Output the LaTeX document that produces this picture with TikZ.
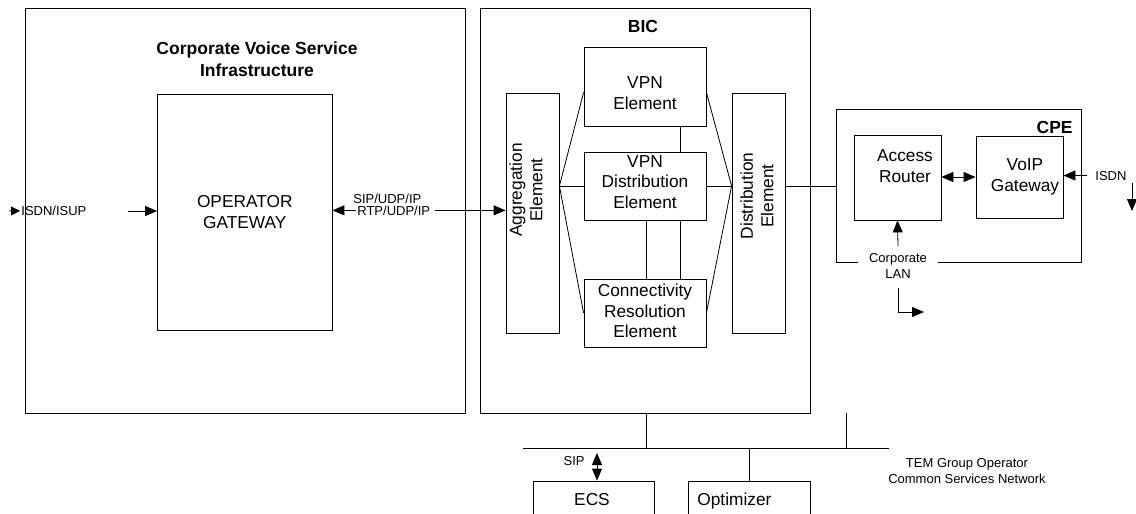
\documentclass[tikz,border=0pt]{standalone}
\usepackage{fontspec}
\setmainfont{Liberation Sans}
\usetikzlibrary{arrows.meta}
\begin{document}
\begin{tikzpicture}[x=1pt,y=-1pt,line width=0.8pt,
  box/.style={draw,inner sep=0pt},
  big/.style={font=\fontsize{17.3}{20.5}\selectfont,align=center,inner sep=0pt},
  small/.style={font=\fontsize{13}{15.5}\selectfont,align=center,inner sep=0pt},
  heading/.style={font=\bfseries\fontsize{17.5}{21.5}\selectfont,align=center,inner sep=0pt},
  tip/.style={-{Triangle[length=12pt,width=10pt]}},
  tips/.style={{Triangle[length=12pt,width=10pt]}-{Triangle[length=12pt,width=10pt]}}]
\useasboundingbox (0,0) rectangle (1136,514);
\clip (0,0) rectangle (1136,514);

% --- corporate voice service infrastructure ---
\node[box,minimum width=439.5,minimum height=405] (cvsi) at (245.25,210.5) {};
\node[heading] (cvsit) at (257,59) {Corporate Voice Service\\Infrastructure};
\node[box,big,minimum width=174.5,minimum height=236] (op) at (244.75,212) {OPERATOR\\GATEWAY};

% --- BIC ---
\node[box,minimum width=330,minimum height=405] (bic) at (645,210.5) {};
\node[heading,anchor=base] (bict) at (643,32) {BIC};
\node[box,minimum width=53,minimum height=240] (agg) at (532.5,213) {};
\node[big,rotate=90] (aggt) at (526,190) {Aggregation\\Element};
\node[box,minimum width=53,minimum height=240] (dist) at (758.5,213) {};
\node[big,rotate=90] (distt) at (757,196) {Distribution\\Element};
\node[box,minimum width=122,minimum height=79] (vpn) at (645,86.5) {};
\node[big] (vpnt) at (645,93) {VPN\\Element};
\node[box,minimum width=122,minimum height=68] (vpnd) at (645,186) {};
\node[big] (vpndt) at (645,182) {VPN\\Distribution\\Element};
\node[box,minimum width=122,minimum height=68] (conn) at (645,313) {};
\node[big] (connt) at (645,311) {Connectivity\\Resolution\\Element};

% internal BIC links
\draw (agg.east |- vpnd.west) -- (vpnd.west);
\draw (vpnd.east) -- (dist.west |- vpnd.east);
\draw (agg.east |- vpnd.west) -- ([yshift=34pt]vpn.south west);
\draw (agg.east |- vpnd.west) -- (conn.west);
\draw (dist.west |- vpnd.east) -- ([yshift=34pt]vpn.south east);
\draw (dist.west |- vpnd.east) -- (conn.east);
\draw ([xshift=35pt]vpn.south) -- ([xshift=35pt]vpnd.north);
\draw ([xshift=1pt]vpnd.south) -- ([xshift=1pt]conn.north);
\draw ([xshift=35pt]vpnd.south) -- ([xshift=35pt]conn.north);

% --- protocol labels between gateway and BIC ---
\node[small,anchor=base west] (isup) at (21,215.5) {ISDN/ISUP};
\coordinate (in0) at (9,211);
\coordinate (in1) at (128,211);
\draw[-{Triangle[length=9pt,width=9pt]}] (in0) -- ([xshift=-1pt]isup.west);
\draw[tip] (in1) -- (op.west |- in1);
\node[small,anchor=base west] (sip) at (353,203) {SIP/UDP/IP};
\node[small,anchor=base west] (rtp) at (357,215) {RTP/UDP/IP};
\draw[tip] ([xshift=-1pt]rtp.west) -- (op.east |- rtp.west);
\draw[tip] ([xshift=4pt]rtp.east) -- (agg.west |- rtp.east);

% --- CPE ---
\node[box,minimum width=245,minimum height=153] (cpe) at (958.5,185.5) {};
\node[heading,anchor=base east] (cpet) at (1073,133) {CPE};
\node[box,minimum width=87,minimum height=85] (ar) at (897.5,177.5) {};
\node[big] (art) at (905,166) {Access\\Router};
\node[box,minimum width=87,minimum height=82] (voip) at (1019.5,177) {};
\node[big] (voipt) at (1025,177) {VoIP\\Gateway};
\node[small,fill=white,inner xsep=11pt,inner ysep=3pt] (lan) at (898,266) {Corporate\\LAN};
\draw (dist.east |- vpnd.east) -- (cpe.west |- vpnd.east);
\draw[tips] (ar.east |- voip.west) -- (voip.west);
\node[small,anchor=base west] (isdn) at (1095,180) {ISDN};
\draw[tip] ([xshift=-8pt]isdn.west) -- (voip.east |- isdn.west);
\coordinate (isdnA) at (1132,183);
\coordinate (isdnB) at (1132,211);
\draw[tip] (isdnA) -- (isdnB);
\draw[tip] ([yshift=4pt]lan.north) -- (ar.south);
\coordinate (lanout) at (924,312);
\draw[tip] ([yshift=-6pt]lan.south) |- (lanout);

% --- common services network ---
\coordinate (busL) at (523,448);
\coordinate (busR) at (889,448);
\coordinate (stubT) at (846,413);
\draw (busL) -- (busR);
\draw ([xshift=1pt]bic.south) -- ([xshift=1pt]bic.south |- busL);
\draw (stubT) -- (stubT |- busL);
\node[box,minimum width=121,minimum height=59] (ecs) at (593.5,510.5) {};
\node[box,minimum width=122,minimum height=59] (opt) at (749,510.5) {};
\node[big,anchor=base] (ecst) at (592,505) {ECS};
\node[big,anchor=base west] (optt) at (697,505) {Optimizer};
\draw (opt.north |- busL) -- (opt.north);
\coordinate (sipT) at (597,453);
\draw[tips] (sipT) -- (sipT |- ecs.north);
\node[small,anchor=base east] (sipl) at (585,465) {SIP};
\node[small] (tem) at (967,471) {TEM Group Operator\\Common Services Network};
\end{tikzpicture}
\end{document}
